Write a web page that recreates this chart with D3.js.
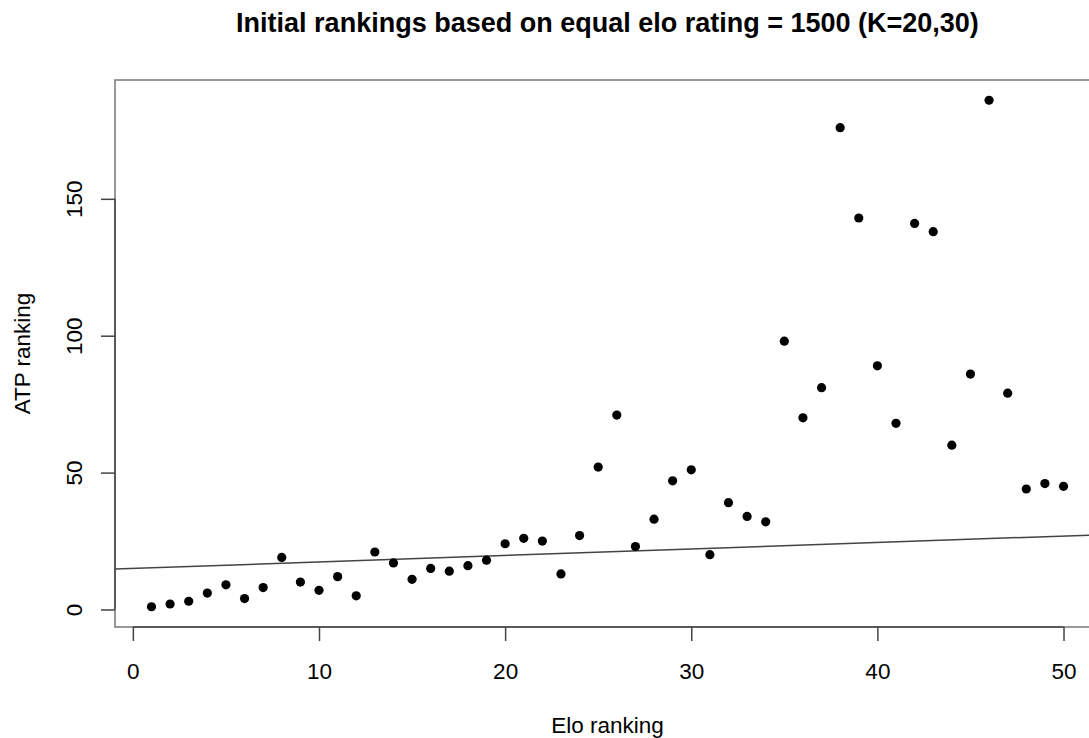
<!DOCTYPE html>
<html>
<head>
<meta charset="utf-8">
<title>Elo vs ATP ranking</title>
<style>
body {margin: 0; background: #fff;}
text {font-family: "Liberation Sans", Arial, sans-serif; fill: #000;}
.title {font-size: 27px; font-weight: bold;}
.tick text {font-size: 22.5px;}
.lab {font-size: 22.5px;}
</style>
</head>
<body>
<div id="chart"></div>
<script src="https://cdn.jsdelivr.net/npm/d3@7"></script>
<script>
// elo rank 1..50 against the player's ATP rank
var eloRank = d3.range(1, 51);
var atpRank = [1, 2, 3, 6, 9, 4, 8, 19, 10, 7,
	12, 5, 21, 17, 11, 15, 14, 16, 18, 24,
	26, 25, 13, 27, 52, 71, 23, 33, 47, 51,
	20, 39, 34, 32, 98, 70, 81, 176, 143, 89,
	68, 141, 138, 60, 86, 186, 79, 44, 46, 45];
var xTicks = [0, 10, 20, 30, 40, 50];
var yTicks = [0, 50, 100, 150];
var fitLine = {intercept: 15.0, slope: 0.2365};

(function(d3) {
	var width = 1089;
	var height = 738;
	var left = 115, right = 1100, top = 80, bottom = 627;
	var tickLen = 14;

	var svg = d3.select('#chart')
		.append('svg')
		.attr('width', width)
		.attr('height', height);

	// R style: 4% padding round the data range
	var xr = d3.extent(eloRank), yr = d3.extent(atpRank);
	var xp = (xr[1] - xr[0]) * 0.04, yp = (yr[1] - yr[0]) * 0.04;
	var x = d3.scaleLinear().domain([xr[0] - xp, xr[1] + xp]).range([left, right]);
	var y = d3.scaleLinear().domain([yr[0] - yp, yr[1] + yp]).range([bottom, top]);

	svg.append('defs').append('clipPath').attr('id', 'clip')
		.append('rect')
		.attr('x', left).attr('y', top)
		.attr('width', right - left).attr('height', bottom - top);

	// plot box
	svg.append('rect')
		.attr('x', left).attr('y', top)
		.attr('width', right - left).attr('height', bottom - top)
		.attr('fill', 'none')
		.attr('stroke', '#777')
		.attr('stroke-width', 1.5);

	// axes: line only from first to last tick, like R
	var xAxis = svg.append('g')
		.attr('transform', 'translate(0,' + bottom + ')')
		.call(d3.axisBottom(x).tickValues(xTicks).tickSize(tickLen).tickSizeOuter(0));
	xAxis.select('.domain').remove();
	xAxis.append('line')
		.attr('x1', x(xTicks[0])).attr('x2', x(xTicks[xTicks.length - 1]));
	xAxis.selectAll('.tick text').attr('y', 0).attr('dy', 0).attr('transform', 'translate(0,52)');

	var yAxis = svg.append('g')
		.attr('transform', 'translate(' + left + ',0)')
		.call(d3.axisLeft(y).tickValues(yTicks).tickSize(tickLen).tickSizeOuter(0));
	yAxis.select('.domain').remove();
	yAxis.append('line')
		.attr('y1', y(yTicks[0])).attr('y2', y(yTicks[yTicks.length - 1]));
	yAxis.selectAll('.tick text')
		.attr('text-anchor', 'middle')
		.attr('x', 0)
		.attr('dy', 0)
		.attr('transform', 'translate(-33,0) rotate(-90)');

	[xAxis, yAxis].forEach(function(a) {
		a.selectAll('line').attr('stroke', '#444').attr('stroke-width', 1.5);
		a.selectAll('text').attr('fill', '#111')
			.style('font-family', '"Liberation Sans", Arial, sans-serif');
	});

	// fitted line
	svg.append('g')
		.attr('clip-path', 'url(#clip)')
		.append('line')
		.attr('x1', left)
		.attr('y1', y(fitLine.intercept + fitLine.slope * x.invert(left)))
		.attr('x2', right)
		.attr('y2', y(fitLine.intercept + fitLine.slope * x.invert(right)))
		.attr('stroke', '#444')
		.attr('stroke-width', 1.5);

	svg.append('g')
		.selectAll('circle')
		.data(eloRank)
		.enter()
		.append('circle')
		.attr('cx', function(d) { return x(d); })
		.attr('cy', function(d, i) { return y(atpRank[i]); })
		.attr('r', 4.6)
		.attr('fill', '#000');

	svg.append('text')
		.attr('class', 'title')
		.attr('x', (left + right) / 2)
		.attr('y', 32)
		.attr('text-anchor', 'middle')
		.text('Initial rankings based on equal elo rating = 1500 (K=20,30)');

	svg.append('text')
		.attr('class', 'lab')
		.attr('x', (left + right) / 2)
		.attr('y', 733)
		.attr('text-anchor', 'middle')
		.attr('fill', '#111')
		.text('Elo ranking');

	svg.append('text')
		.attr('class', 'lab')
		.attr('transform', 'translate(30,' + ((top + bottom) / 2) + ') rotate(-90)')
		.attr('text-anchor', 'middle')
		.attr('fill', '#111')
		.text('ATP ranking');
})(window.d3);
</script>
</body>
</html>
